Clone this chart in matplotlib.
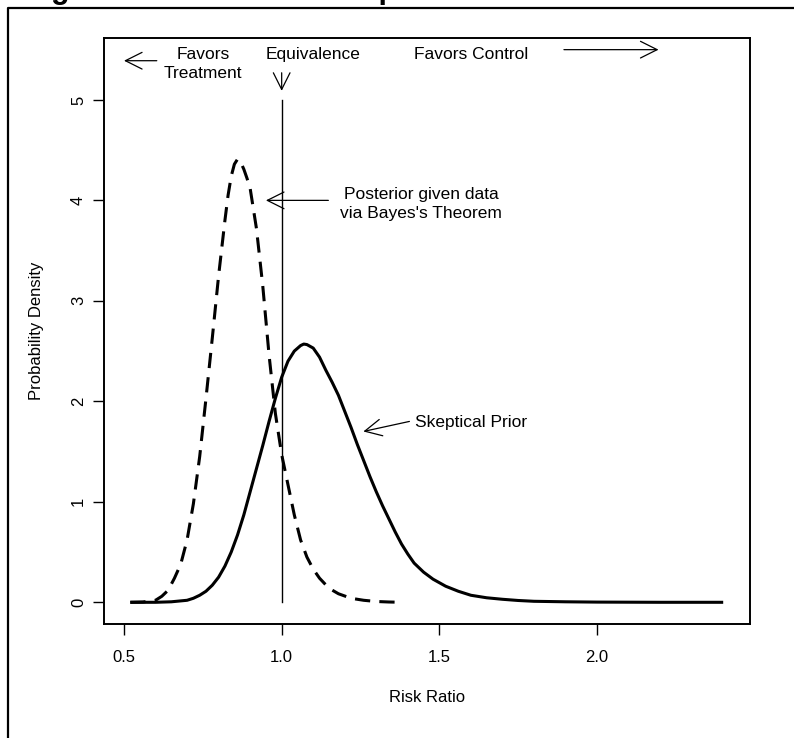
import matplotlib
matplotlib.use("Agg")
import matplotlib.pyplot as plt
from matplotlib.lines import Line2D

plt.rcParams['font.family'] = ['Liberation Sans', 'DejaVu Sans']

# ---- data ----
posterior_x = [0.52, 0.56, 0.60, 0.62, 0.64, 0.66, 0.68, 0.70, 0.72, 0.74, 0.76, 0.78,
               0.80, 0.82, 0.83, 0.84, 0.85, 0.86, 0.87, 0.88, 0.89, 0.90, 0.92, 0.94,
               0.96, 0.98, 1.00, 1.02, 1.04, 1.06, 1.08, 1.10, 1.12, 1.15, 1.18, 1.22,
               1.26, 1.30, 1.34, 1.38]
posterior_y = [0.0, 0.003, 0.02, 0.06, 0.12, 0.24, 0.38, 0.62, 0.98, 1.45, 2.03, 2.63,
               3.25, 3.80, 4.05, 4.24, 4.36, 4.41, 4.38, 4.31, 4.22, 4.12, 3.72, 3.15,
               2.46, 1.88, 1.47, 1.17, 0.87, 0.62, 0.45, 0.33, 0.24, 0.14, 0.085, 0.04,
               0.02, 0.008, 0.003, 0.0]

prior_x = [0.52, 0.60, 0.65, 0.70, 0.72, 0.74, 0.76, 0.78, 0.80, 0.82, 0.84, 0.86,
           0.88, 0.90, 0.92, 0.94, 0.96, 0.98, 1.00, 1.02, 1.04, 1.06, 1.07, 1.08,
           1.10, 1.12, 1.14, 1.16, 1.18, 1.20, 1.22, 1.24, 1.26, 1.28, 1.30, 1.32,
           1.34, 1.36, 1.38, 1.40, 1.42, 1.45, 1.48, 1.52, 1.56, 1.60, 1.65, 1.70,
           1.75, 1.80, 1.90, 2.00, 2.20, 2.40]
prior_y = [0.0, 0.0, 0.005, 0.02, 0.04, 0.07, 0.11, 0.17, 0.25, 0.36, 0.50, 0.67,
           0.87, 1.10, 1.33, 1.56, 1.80, 2.03, 2.24, 2.40, 2.50, 2.555, 2.57, 2.565,
           2.53, 2.44, 2.31, 2.19, 2.06, 1.90, 1.74, 1.57, 1.41, 1.25, 1.10, 0.96,
           0.83, 0.70, 0.58, 0.48, 0.39, 0.30, 0.23, 0.16, 0.11, 0.07, 0.045, 0.03,
           0.018, 0.01, 0.005, 0.002, 0.0, 0.0]

equivalence_x = 1.0
equivalence_y = [0.0, 5.0]

x_ticks = [0.5, 1.0, 1.5, 2.0]
x_tick_labels = ['0.5', '1.0', '1.5', '2.0']
y_ticks = [0, 1, 2, 3, 4, 5]
y_tick_labels = ['0', '1', '2', '3', '4', '5']

# ---- figure ----
W, H = 794, 738
fig = plt.figure(figsize=(W / 100, H / 100), dpi=100)
ax = fig.add_axes([104 / W, 1 - 624 / H, (750 - 104) / W, (624 - 38) / H])

ax.plot(prior_x, prior_y, color='black', lw=2.2, solid_capstyle='butt',
        solid_joinstyle='round')
ax.plot(posterior_x, posterior_y, color='black', lw=2.2, linestyle=(0, (5, 3)))
ax.plot([equivalence_x, equivalence_x], equivalence_y, color='black', lw=1.0)

ax.set_xlim(0.4366, 2.485)
ax.set_ylim(-0.216, 5.616)
ax.set_xticks(x_ticks)
ax.set_xticklabels(x_tick_labels)
ax.set_yticks(y_ticks)
ax.set_yticklabels(y_tick_labels, rotation=90, va='center')

ax.tick_params(axis='both', direction='out', length=8, width=1.0, labelsize=12,
               color='black', labelcolor='black')
ax.tick_params(axis='x', pad=11)
ax.tick_params(axis='y', pad=5)
for s in ax.spines.values():
    s.set_linewidth(1.4)
    s.set_color('black')

ax.set_xlabel('Risk Ratio', fontsize=12)
ax.xaxis.set_label_coords(0.5, (624 - 698) / 586)
ax.xaxis.label.set_va('center')
ax.set_ylabel('Probability Density', fontsize=12)
ax.yaxis.set_label_coords((36.7 - 104) / 646, 0.5)
ax.yaxis.label.set_va('center')

arrow_style = '->,head_length=0.6,head_width=0.3'
def arrow(tail, tip):
    ax.annotate('', xy=tip, xytext=tail,
                arrowprops=dict(arrowstyle=arrow_style, lw=0.9, color='black',
                                shrinkA=0, shrinkB=0, mutation_scale=20))

# top annotations
ax.text(0.75, 5.36, 'Favors\nTreatment', ha='center', va='center', fontsize=12.5,
        linespacing=1.35)
arrow((0.604, 5.39), (0.50, 5.39))
ax.text(1.10, 5.45, 'Equivalence', ha='center', va='center', fontsize=12.5)
arrow((1.0, 5.27), (1.0, 5.09))
ax.text(1.60, 5.45, 'Favors Control', ha='center', va='center', fontsize=12.5)
arrow((1.895, 5.50), (2.195, 5.50))

# curve annotations
ax.text(1.443, 3.96, "Posterior given data\nvia Bayes's Theorem", ha='center',
        va='center', fontsize=12.5, linespacing=1.35)
arrow((1.148, 4.0), (0.95, 4.0))
ax.text(1.60, 1.79, 'Skeptical Prior', ha='center', va='center', fontsize=12.5)
arrow((1.405, 1.80), (1.259, 1.70))

# outer page frame (left and top rules)
fig.add_artist(Line2D([7.5 / W, 7.5 / W, 1.0], [0.0, 1 - 8 / H, 1 - 8 / H],
                      transform=fig.transFigure, color='black', lw=1.6))
# cropped title at the very top (only its lower edge shows, as in the reference)
fig.text(24 / W, 1 + 2 / H, 'Figure 2.  Posterior Comparison', fontsize=22,
         fontweight='bold', ha='left', va='baseline')

fig.savefig('out.png', dpi=100)
